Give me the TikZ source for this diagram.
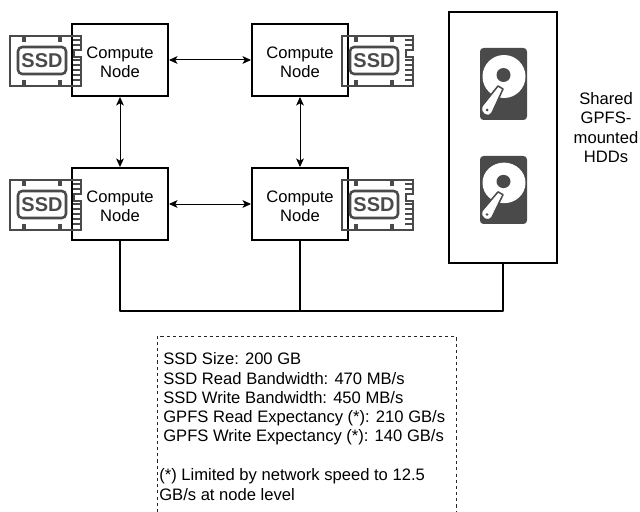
\documentclass[tikz,border=0pt]{standalone}
\usepackage{fontspec}
\setmainfont{Liberation Sans}
\usetikzlibrary{shapes,arrows.meta}

\definecolor{icongray}{HTML}{4A4A4A}

\newcommand{\computetext}{\rule{0pt}{11.2pt}Compute\\Node}

\tikzset{
    compute/.style={rectangle, draw, line width=1.42pt, minimum width=2.4cm, minimum height=1.8cm, align=center, font=\fontsize{11.8}{13.7}\selectfont},
    storage/.style={rectangle, draw, line width=1.42pt, minimum width=2.7cm, minimum height=6.275cm},
    link/.style={<->, >={Stealth[length=6pt,width=5.5pt,inset=1.5pt]}, line width=.71pt},
    bus/.style={line width=1.42pt, line join=round},
    plain/.style={rectangle, inner sep=0, font=\fontsize{11.8}{13.7}\selectfont},
    ssdicon/.pic={
        \draw [icongray, line width=1.7pt, line join=miter] (0,0) -- (71,0) -- (71,14) -- (64,14) -- (64,21) -- (71,21) -- (71,50) -- (0,50) -- cycle;
        \foreach \y in {4,9,24,29,34,39,44}
            \draw [icongray, line width=1.42pt] (63,\y) -- (70,\y);
        \foreach \x in {14,50} {
            \draw [icongray, line width=3pt] (\x,0) -- (\x,6);
            \draw [icongray, line width=3pt] (\x,50) -- (\x,44);
        }
        \draw [icongray, line width=1.8pt, rounded corners=3pt] (8,11) rectangle (56,38);
        \node (label) [rectangle, inner sep=0, text=icongray, font=\fontsize{14.2}{15}\selectfont\bfseries] at (32,25) {SSD};
    },
    hddicon/.pic={
        \fill [icongray, rounded corners=2.5pt] (0,0) rectangle (47,72);
        \fill [white] (24,28.5) circle (21.5);
        \fill [icongray] (23.5,27) circle (7);
        \draw [icongray, fill=white, line width=1.1pt, line join=round] (18,38) -- (2,58) .. controls (-1,66) and (8,71) .. (12,65) -- (23,41) -- cycle;
        \fill [icongray] (7,62) circle (1.5);
    }
}

\begin{document}
\begin{tikzpicture}[x=.025cm, y=-.025cm]
    \useasboundingbox (0,0) rectangle (640,512);

    \node (a) [compute] at (120,60) {\computetext};
    \node (b) [compute] at (300,60) {\computetext};
    \node (c) [compute] at (120,204) {\computetext};
    \node (d) [compute] at (300,204) {\computetext};
    \node (H) [storage] at (503,137.5) {};
    \node (shared) [plain, align=center] at (606,127.5) {Shared\\GPFS-\\mounted\\HDDs};

    \pic (ssda) at (10,36) {ssdicon};
    \pic (ssdb) at (342,36) {ssdicon};
    \pic (ssdc) at (10,180) {ssdicon};
    \pic (ssdd) at (342,180) {ssdicon};

    \pic (hdda) at (480,48) {hddicon};
    \pic [yscale=.944] (hddb) at (480,156) {hddicon};

    \draw [link] (a) -- (b);
    \draw [link] (c) -- (d);
    \draw [link] (a) -- (c);
    \draw [link] (b) -- (d);

    \coordinate (m) at (300,311);
    \draw [bus] (c) |- (m) -| (H);
    \draw [bus] (d) -- (m);

    % frame runs off the bottom of the page
    \coordinate (p) at (157,512);
    \coordinate (q) at (456,336);
    \draw [line width=.71pt, color=black!85, dash pattern=on 2.2pt off 2.2pt] (p) |- (q) -- (q |- p);
    \node (specs) [plain, anchor=west, align=left] at (163,399) {SSD Size: 200 GB\\SSD Read Bandwidth: 470 MB/s\\SSD Write Bandwidth: 450 MB/s\\GPFS Read Expectancy (*): 210 GB/s\\GPFS Write Expectancy (*): 140 GB/s};
    \node (note) [plain, anchor=west, align=left] at (159,484.5) {(*) Limited by network speed to 12.5\\GB/s at node level};
\end{tikzpicture}
\end{document}
